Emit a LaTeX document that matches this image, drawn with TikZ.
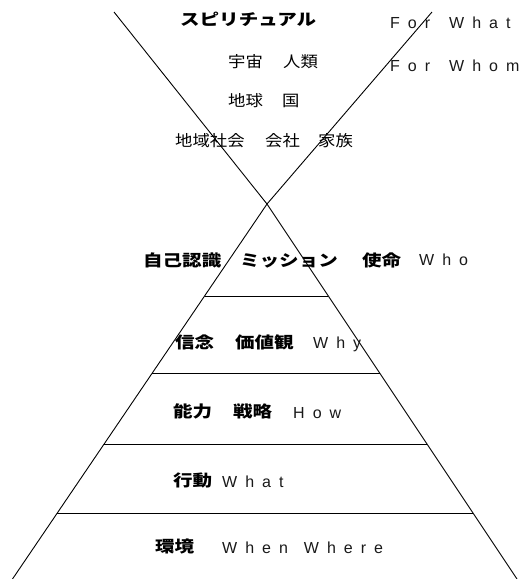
\documentclass[tikz,border=0pt]{standalone}
\usepackage{fontspec}
\usetikzlibrary{calc}
\newfontfamily\jpreg[FakeStretch=1.12]{Noto Sans CJK JP}
\newfontfamily\jpbold[FakeStretch=1.22]{Noto Sans CJK JP}
\newfontfamily\enfont[LetterSpace=50]{Liberation Sans}
\begin{document}
\begin{tikzpicture}[x=1pt,y=-1pt,
  jr/.style={anchor=base west, inner sep=0pt, font=\jpreg\fontsize{15.5}{16}\selectfont},
  jb/.style={anchor=base west, inner sep=0pt, font=\jpbold\bfseries\fontsize{16}{17}\selectfont},
  en/.style={anchor=base west, inner sep=0pt, font=\enfont\fontsize{16}{17}\selectfont, text=black!90},
  ln/.style={line width=0.9pt, draw=black}]
\useasboundingbox (0,0) rectangle (526,579);
% key points
\coordinate (apex) at (267,204);
\coordinate (tl) at (114,12);
\coordinate (tr) at (432,12);
\coordinate (bl) at (12.5,579);
\coordinate (br) at (517,579);
\foreach \n/\t in {1/0.2453,2/0.4507,3/0.64,4/0.824}{
  \coordinate (l\n) at ($(apex)!\t!(bl)$);
  \coordinate (r\n) at ($(apex)!\t!(br)$);
}
% lines
\draw[ln] (tl) -- (apex) -- (tr);
\draw[ln] (bl) -- (apex) -- (br);
\foreach \n in {1,...,4}{\draw[ln] (l\n) -- (r\n);}
% upper texts
\node[jb] (spi) at (180,25) {スピリチュアル};
\node[jr] (uchu) at (228,67) {宇宙};
\node[jr] (jinrui) at (283,67) {人類};
\node[jr] (chikyu) at (228,106) {地球};
\node[jr] (kuni) at (282,106) {国};
\node[jr] (chiiki) at (175,146) {地域社会};
\node[jr] (kaisha) at (265,146) {会社};
\node[jr] (kazoku) at (318,146) {家族};
\node[en] (forwhat) at (390,28) {For\hspace{19pt}What};
\node[en] (forwhom) at (390,71) {For\hspace{19pt}Whom};
% pyramid texts
\node[jb] (jiko) at (143,266) {自己認識};
\node[jb] (mission) at (240,266) {ミッション};
\node[jb] (shimei) at (362,266) {使命};
\node[en] (who) at (419,265) {Who};
\node[jb] (shinnen) at (175,348.5) {信念};
\node[jb] (kachi) at (235,348.5) {価値観};
\node[en] (why) at (313,348) {Why};
\node[jb] (noryoku) at (173,417) {能力};
\node[jb] (senryaku) at (233,417) {戦略};
\node[en] (how) at (293,418) {How};
\node[jb] (kodo) at (173,486.5) {行動};
\node[en] (what) at (222,487) {What};
\node[jb] (kankyo) at (155,552) {環境};
\node[en] (whenwhere) at (222,553) {When\hspace{16pt}Where};
\end{tikzpicture}
\end{document}
